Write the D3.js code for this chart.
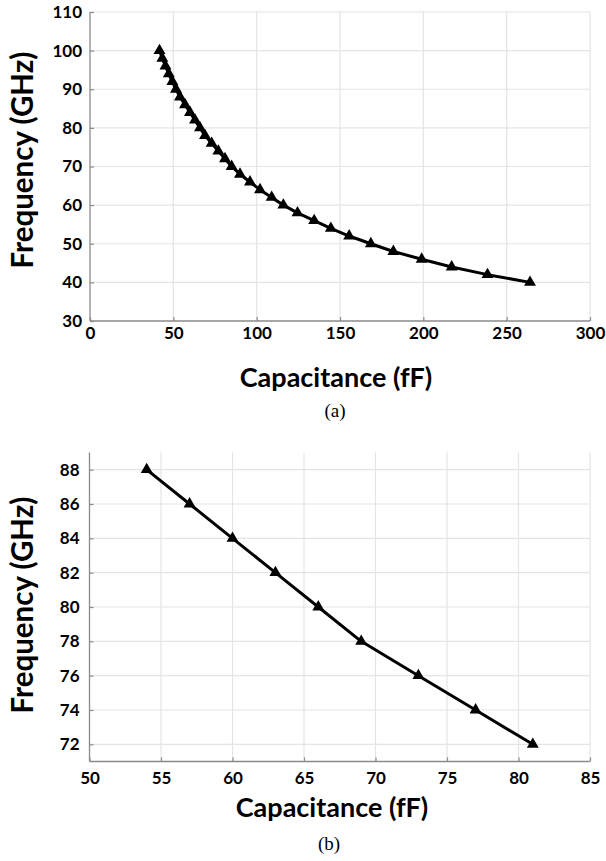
<!DOCTYPE html>
<html>
<head>
<meta charset="utf-8">
<script src="https://cdn.jsdelivr.net/npm/d3@7"></script>
<style>
  html, body { margin: 0; padding: 0; background: #fff; }
  svg { display: block; }
</style>
</head>
<body>
<svg id="fig" width="606" height="861"></svg>
<script>
// Panel (a): full tuning range
const capA = [41.7, 43.4, 45.3, 47.3, 49.4, 51.6, 54, 57, 60, 63, 66, 69, 73, 77, 81,
              85, 90, 96, 102, 109, 116, 124.5, 134.5, 144.5, 155.5, 168.5, 182, 199, 217, 238.5, 264];
const freqA = [100, 98, 96, 94, 92, 90, 88, 86, 84, 82, 80, 78, 76, 74, 72,
               70, 68, 66, 64, 62, 60, 58, 56, 54, 52, 50, 48, 46, 44, 42, 40];
const xTicksA = [0, 50, 100, 150, 200, 250, 300];
const yTicksA = [30, 40, 50, 60, 70, 80, 90, 100, 110];

// Panel (b): zoom on 72-88 GHz
const capB = [54, 57, 60, 63, 66, 69, 73, 77, 81];
const freqB = [88, 86, 84, 82, 80, 78, 76, 74, 72];
const xTicksB = [50, 55, 60, 65, 70, 75, 80, 85];
const yTicksB = [72, 74, 76, 78, 80, 82, 84, 86, 88];

const svg = d3.select("#fig");
const labelFont = "Lato, 'Open Sans', sans-serif";

function panel(cfg) {
  const g = svg.append("g");
  const x = d3.scaleLinear().domain(cfg.xDomain).range([cfg.left, cfg.right]);
  const y = d3.scaleLinear().domain(cfg.yDomain).range([cfg.bottom, cfg.top]);

  // grid
  g.append("g").selectAll("line").data(cfg.xTicks.filter(t => t !== cfg.xDomain[0]))
    .join("line")
    .attr("x1", d => x(d)).attr("x2", d => x(d))
    .attr("y1", cfg.bottom).attr("y2", cfg.top)
    .attr("stroke", "#e4e4e4").attr("stroke-width", 1.2);
  g.append("g").selectAll("line").data(cfg.yTicks.filter(t => t !== cfg.yDomain[0]))
    .join("line")
    .attr("x1", cfg.left).attr("x2", cfg.right)
    .attr("y1", d => y(d)).attr("y2", d => y(d))
    .attr("stroke", "#e4e4e4").attr("stroke-width", 1.2);

  // axes (inward ticks)
  const xAxis = g.append("g").attr("transform", `translate(0,${cfg.bottom})`)
    .call(d3.axisBottom(x).tickValues(cfg.xTicks).tickSize(-4).tickPadding(cfg.xPad).tickSizeOuter(0));
  const yAxis = g.append("g").attr("transform", `translate(${cfg.left},0)`)
    .call(d3.axisLeft(y).tickValues(cfg.yTicks).tickSize(-4).tickPadding(cfg.yPad).tickSizeOuter(0));
  [xAxis, yAxis].forEach(a => {
    a.select(".domain").attr("stroke", "#8a8a8a").attr("stroke-width", 1.3);
    a.selectAll(".tick line").attr("stroke", "#8a8a8a").attr("stroke-width", 1.2);
    a.selectAll(".tick text")
      .attr("fill", "#000")
      .style("font-family", labelFont)
      .style("font-weight", "700")
      .style("font-size", "17px");
  });
  yAxis.select(".domain").attr("d", `M0,${cfg.bottom}V${cfg.top}`);
  xAxis.select(".domain").attr("d", `M${cfg.left},0H${cfg.right}`);

  // line + markers
  const pts = cfg.cap.map((c, i) => [c, cfg.freq[i]]);
  g.append("path").datum(pts)
    .attr("fill", "none").attr("stroke", "#000").attr("stroke-width", 3)
    .attr("stroke-linejoin", "round")
    .attr("d", d3.line().x(d => x(d[0])).y(d => y(d[1])));
  g.append("g").selectAll("path").data(pts).join("path")
    .attr("transform", d => `translate(${x(d[0])},${y(d[1])})`)
    .attr("d", d3.symbol(d3.symbolTriangle, 62))
    .attr("fill", "#000");

  // axis titles and caption
  g.append("text")
    .attr("x", cfg.xTitleX).attr("y", cfg.xTitleY)
    .attr("text-anchor", "middle")
    .style("font-family", labelFont).style("font-weight", "700").style("font-size", "27px")
    .text("Capacitance (fF)");
  g.append("text")
    .attr("transform", `translate(${cfg.yTitleX},${cfg.yTitleY}) rotate(-90)`)
    .attr("text-anchor", "middle")
    .style("font-family", labelFont).style("font-weight", "700").style("font-size", "29.5px")
    .text("Frequency (GHz)");
  g.append("text")
    .attr("x", cfg.capX).attr("y", cfg.capY)
    .attr("text-anchor", "middle")
    .style("font-family", "'Liberation Serif', 'DejaVu Serif', serif").style("font-size", "19px")
    .text(cfg.caption);
}

panel({
  cap: capA, freq: freqA, xTicks: xTicksA, yTicks: yTicksA,
  xDomain: [0, 300], yDomain: [30, 110],
  left: 90, right: 590, top: 12, bottom: 321,
  xPad: 6, yPad: 8,
  xTitleX: 336, xTitleY: 387, yTitleX: 33, yTitleY: 160, capX: 335, capY: 417, caption: "(a)"
});

panel({
  cap: capB, freq: freqB, xTicks: xTicksB, yTicks: yTicksB,
  xDomain: [50, 85], yDomain: [71, 89],
  left: 89.5, right: 590, top: 452.5, bottom: 761.5,
  xPad: 10, yPad: 10,
  xTitleX: 332, xTitleY: 817, yTitleX: 33, yTitleY: 605, capX: 329, capY: 850, caption: "(b)"
});
</script>
</body>
</html>
